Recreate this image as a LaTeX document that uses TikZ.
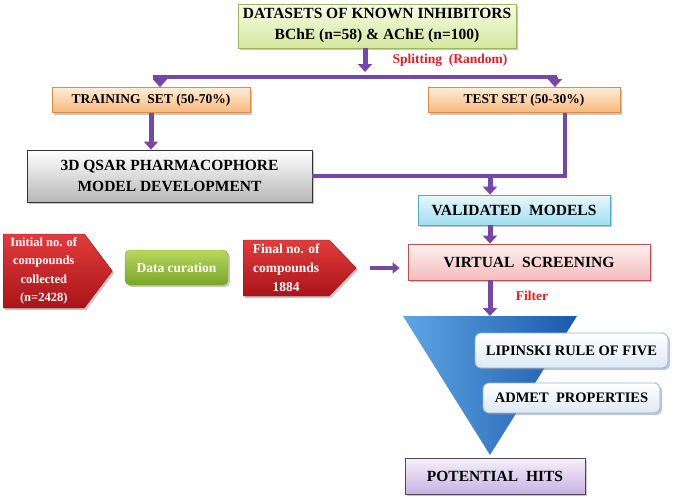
\documentclass[tikz,border=0pt]{standalone}
\usepackage{fontspec}
\setmainfont{Liberation Serif}
\usepackage{tikz}
\usetikzlibrary{shapes.symbols, arrows.meta, positioning, shadows, calc}

\definecolor{flowpurple}{RGB}{117,72,168}
\definecolor{splitred}{RGB}{225,30,35}

\begin{document}
\begin{tikzpicture}[x=1pt, y=-1pt,
        box/.style={draw, rectangle, align=center, inner sep=2pt, line width=0.8pt,
            font=\fontsize{15.5}{21}\selectfont\bfseries,
            drop shadow={shadow xshift=2pt, shadow yshift=-2pt, opacity=0.45}},
        dataset/.style={box, minimum width=278pt, minimum height=44pt, draw={rgb,255:red,155;green,187;blue,89},
            top color={rgb,255:red,246;green,251;blue,228}, bottom color={rgb,255:red,212;green,232;blue,160}},
        subset/.style={box, minimum height=25pt, font=\fontsize{13.5}{16}\selectfont\bfseries, draw={rgb,255:red,220;green,140;blue,70},
            top color={rgb,255:red,254;green,236;blue,215}, bottom color={rgb,255:red,248;green,184;blue,125}},
        modelbox/.style={box, minimum width=285pt, minimum height=52pt, draw=black!80,
            top color=white, bottom color=black!28},
        validbox/.style={box, minimum width=192pt, minimum height=30pt, draw={rgb,255:red,75;green,172;blue,198},
            top color={rgb,255:red,232;green,248;blue,252}, bottom color={rgb,255:red,160;green,222;blue,240}},
        screenbox/.style={box, minimum width=242pt, minimum height=36pt, draw={rgb,255:red,192;green,80;blue,77},
            top color={rgb,255:red,254;green,240;blue,240}, bottom color={rgb,255:red,244;green,188;blue,188}},
        rulebox/.style={box, rounded corners=6pt, font=\fontsize{14.5}{18}\selectfont\bfseries,
            draw={rgb,255:red,141;green,179;blue,226},
            top color=white, bottom color={rgb,255:red,222;green,232;blue,245}},
        hitbox/.style={box, minimum width=180pt, minimum height=36pt, draw=black!70,
            top color={rgb,255:red,246;green,240;blue,252}, bottom color={rgb,255:red,200;green,178;blue,226}},
        tag/.style={signal, signal to=east, anchor=west, draw={rgb,255:red,150;green,20;blue,20}, align=center, inner sep=1pt,
            text=white, font=\fontsize{12.5}{18.5}\selectfont\bfseries,
            top color={rgb,255:red,225;green,60;blue,60}, bottom color={rgb,255:red,170;green,20;blue,25},
            drop shadow={shadow xshift=2pt, shadow yshift=-2pt, opacity=0.45}},
        curation/.style={rectangle, rounded corners=5pt, minimum width=103pt, minimum height=35pt, align=center,
            text=white, font=\fontsize{13.5}{16}\selectfont\bfseries, draw={rgb,255:red,120;green,160;blue,40},
            top color={rgb,255:red,185;green,215;blue,95}, bottom color={rgb,255:red,120;green,165;blue,40},
            drop shadow={shadow xshift=2pt, shadow yshift=-2pt, opacity=0.45}},
        redlabel/.style={text=splitred, font=\fontsize{13.5}{16}\selectfont\bfseries},
        arrow/.style={line width=5pt, draw=flowpurple, -{Triangle[width=14pt,length=8pt]}},
        link/.style={line width=4pt, draw=flowpurple}
    ]
        \useasboundingbox (0,0) rectangle (676,496);

        % upper branch
        \node[dataset] (data) at (377,26) {DATASETS OF KNOWN INHIBITORS\\BChE (n=58) \& AChE (n=100)};
        \coordinate (split) at (365,77);
        \node[redlabel] (splitlabel) at (450,60) {Splitting\ \ (Random)};
        \node[subset, minimum width=198pt] (train) at (151,100) {TRAINING\ \ SET (50-70\%)};
        \node[subset, minimum width=192pt] (test) at (524,100) {TEST SET (50-30\%)};
        \node[modelbox] (qsar) at (169.5,176) {3D QSAR PHARMACOPHORE\\MODEL DEVELOPMENT};
        \node[validbox] (valid) at (514,210) {VALIDATED\ \ MODELS};
        \node[screenbox] (screen) at (529,262) {VIRTUAL\ \ SCREENING};

        \draw[arrow] (data.south -| split) -- ([yshift=5pt]split);
        \draw[link] ([xshift=2pt]train.north |- split) -- ([xshift=33pt]test.north |- split);
        \draw[arrow] ([xshift=9pt]train.north |- split) -- ([xshift=9pt]train.north);
        \draw[arrow] ([xshift=31pt]test.north |- split) -- ([xshift=31pt]test.north);
        \draw[arrow] (train.south) -- (train.south |- qsar.north);
        \draw[link] ([xshift=41pt]test.south) |- (qsar.east);
        \draw[arrow] ([xshift=-24pt]valid.north |- qsar.east) -- ([xshift=-24pt]valid.north);
        \draw[arrow] ([xshift=-24pt]valid.south) -- ([xshift=-24pt]valid.south |- screen.north);

        % compound library
        \node[tag, minimum width=109pt, minimum height=74pt, signal pointer angle=106] (initial) at (3,271)
            {Initial no. of\\compounds\\collected\\(n=2428)};
        \node[curation] (curate) at (176.5,267.5) {Data curation};
        \node[tag, minimum width=113pt, minimum height=56pt, signal pointer angle=92,
            font=\fontsize{13.5}{19}\selectfont\bfseries] (final) at (243,268)
            {Final no. of\\compounds\\1884};
        \draw[line width=4pt, draw=flowpurple, -{Triangle[width=11pt,length=7pt]}, shorten <=14pt, shorten >=8pt]
            (final.east) -- (screen.west |- final.east);

        % filtering funnel
        \coordinate (funnel) at (490,316);
        \shade[left color={rgb,255:red,95;green,165;blue,228}, right color={rgb,255:red,25;green,90;blue,172}]
            (403,316) -- (577,316) -- (490,455) -- cycle;
        \draw[arrow] (screen.south -| funnel) -- (funnel);
        \node[redlabel] (filter) at (532,296) {Filter};
        \node[rulebox, minimum width=193pt, minimum height=35pt] (lipinski) at (571.5,350.5) {LIPINSKI RULE OF FIVE};
        \node[rulebox, minimum width=177pt, minimum height=30pt] (admet) at (571.5,398) {ADMET\ \ PROPERTIES};
        \node[hitbox] (hits) at (495,476) {POTENTIAL\ \ HITS};
    \end{tikzpicture}
\end{document}
